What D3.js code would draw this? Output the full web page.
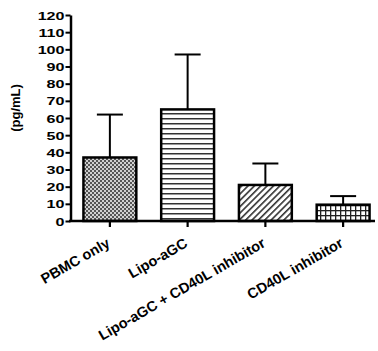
<!DOCTYPE html>
<html><head><meta charset="utf-8">
<script src="https://cdn.jsdelivr.net/npm/d3@7"></script>
<style>body{margin:0;background:#fff}svg{display:block}text{font-family:"Liberation Sans",Arial,sans-serif;font-weight:bold}</style>
</head><body><svg id="c" width="378" height="351"></svg>
<script>
const categories = ["PBMC only", "Lipo-aGC", "Lipo-aGC + CD40L inhibitor", "CD40L inhibitor"];
const means = [37, 65, 21, 9.5];
const errUpper = [62, 97, 33.5, 14.5];
const patterns = ["checker", "hlines", "diag", "grid"];
const yTicks = [0,10,20,30,40,50,60,70,80,90,100,110,120];
const yTitle = "(pg/mL)";

const svg = d3.select("#c");
const defs = svg.append("defs");
const p1 = defs.append("pattern").attr("id","checker").attr("patternUnits","userSpaceOnUse").attr("width",4).attr("height",4);
p1.append("rect").attr("width",4).attr("height",4).attr("fill","#d0d0d0");
p1.append("rect").attr("width",2).attr("height",2).attr("fill","#555");
p1.append("rect").attr("x",2).attr("y",2).attr("width",2).attr("height",2).attr("fill","#555");
const p2 = defs.append("pattern").attr("id","hlines").attr("patternUnits","userSpaceOnUse").attr("width",5).attr("height",5);
p2.append("rect").attr("width",5).attr("height",5).attr("fill","#fff");
p2.append("rect").attr("y",3).attr("width",5).attr("height",1.5).attr("fill","#333");
const p3 = defs.append("pattern").attr("id","diag").attr("patternUnits","userSpaceOnUse").attr("width",4.5).attr("height",4.5).attr("patternTransform","rotate(45)");
p3.append("rect").attr("width",4.5).attr("height",4.5).attr("fill","#fff");
p3.append("rect").attr("width",1.6).attr("height",4.5).attr("fill","#333");
const p4 = defs.append("pattern").attr("id","grid").attr("patternUnits","userSpaceOnUse").attr("width",5).attr("height",5);
p4.append("rect").attr("width",5).attr("height",5).attr("fill","#fff");
p4.append("rect").attr("width",1.3).attr("height",5).attr("fill","#222");
p4.append("rect").attr("width",5).attr("height",1.3).attr("fill","#222");

const y = d3.scaleLinear().domain([0,120]).range([221,15]);
const x = d3.scaleBand().domain(categories).range([71,382]).paddingInner(0.32).paddingOuter(0.16);

svg.selectAll("rect.bar").data(categories).enter().append("rect").attr("class","bar")
  .attr("x", d=>x(d)).attr("width", x.bandwidth())
  .attr("y", (d,i)=>y(means[i])).attr("height",(d,i)=>y(0)-y(means[i]))
  .attr("fill",(d,i)=>`url(#${patterns[i]})`).attr("stroke","#000").attr("stroke-width",2.5);
const cap = 13;
categories.forEach((c,i)=>{
  const cx = x(c)+x.bandwidth()/2;
  svg.append("line").attr("x1",cx).attr("x2",cx).attr("y1",y(means[i])).attr("y2",y(errUpper[i])).attr("stroke","#000").attr("stroke-width",2);
  svg.append("line").attr("x1",cx-cap).attr("x2",cx+cap).attr("y1",y(errUpper[i])).attr("y2",y(errUpper[i])).attr("stroke","#000").attr("stroke-width",2);
});

const ya = svg.append("g").attr("transform","translate(70.5,0)")
  .call(d3.axisLeft(y).tickValues(yTicks).tickSize(5).tickSizeOuter(0));
ya.select(".domain").attr("stroke-width",2.5);
ya.selectAll(".tick line").attr("stroke-width",2);
ya.selectAll(".tick text").attr("font-size",11.5).attr("x",0).attr("dy","0.36em")
  .attr("transform","translate(-6,0) scale(1.4,1)").attr("text-anchor","end").attr("fill","#000");

const xa = svg.append("g").attr("transform",`translate(0,${y(0)})`)
  .call(d3.axisBottom(x).tickSize(6).tickSizeOuter(0));
xa.select(".domain").remove();
xa.selectAll(".tick line").attr("stroke-width",2.2);
xa.append("line").attr("x1",69).attr("x2",375).attr("stroke","#000").attr("stroke-width",2.5);
xa.selectAll(".tick text").attr("font-size",14.5).attr("x",0).attr("y",0).attr("dy",0).attr("fill","#000")
  .attr("text-anchor","end")
  .attr("transform","translate(1,25) rotate(-30)");

svg.append("text").attr("transform","translate(20,108) rotate(-90)").attr("text-anchor","middle")
  .attr("font-size",13).text(yTitle);
</script></body></html>
